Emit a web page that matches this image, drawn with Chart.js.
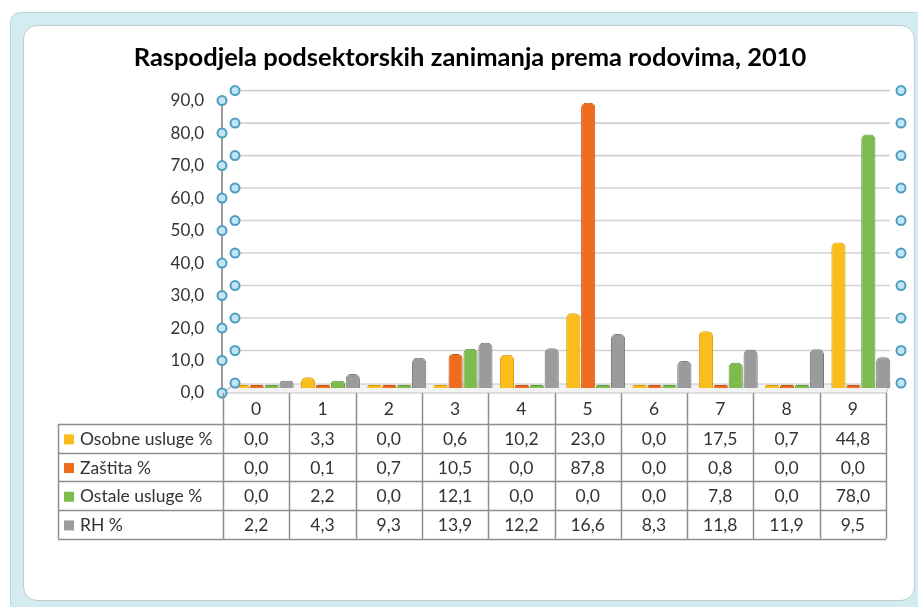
<!DOCTYPE html>
<html>
<head>
<meta charset="utf-8">
<script src="https://cdn.jsdelivr.net/npm/chart.js@4/dist/chart.umd.min.js"></script>
<style>
  body { margin: 0; background: #fff; }
  #wrap { position: relative; width: 918px; height: 607px; overflow: hidden; background: #fff; }
  #band { position: absolute; left: 10px; top: 12px; width: 920px; height: 600px; background: #d4ecf1; border: 1px solid #b5d8e1; border-radius: 10px; }
  #inner { position: absolute; left: 23px; top: 25px; width: 890px; height: 574px; background: #fff; border: 1px solid #c2cacc; border-radius: 14px; }
  canvas { position: absolute; left: 0; top: 0; }
</style>
</head>
<body>
<div id="wrap">
  <div id="band"></div>
  <div id="inner"></div>
  <canvas id="chart" width="918" height="607"></canvas>
</div>
<script>
// data
const categories = ['0', '1', '2', '3', '4', '5', '6', '7', '8', '9'];
const osobneUsluge = [0.0, 3.3, 0.0, 0.6, 10.2, 23.0, 0.0, 17.5, 0.7, 44.8];
const zastita = [0.0, 0.1, 0.7, 10.5, 0.0, 87.8, 0.0, 0.8, 0.0, 0.0];
const ostaleUsluge = [0.0, 2.2, 0.0, 12.1, 0.0, 0.0, 0.0, 7.8, 0.0, 78.0];
const rh = [2.2, 4.3, 9.3, 13.9, 12.2, 16.6, 8.3, 11.8, 11.9, 9.5];
const seriesNames = ['Osobne usluge %', 'Zaštita %', 'Ostale usluge %', 'RH %'];
const yTicks = [0, 10, 20, 30, 40, 50, 60, 70, 80, 90];

const FONT = 'Lato, "Liberation Sans", sans-serif';
const fmt = v => v.toFixed(1).replace('.', ',');

const seriesValues = [osobneUsluge, zastita, ostaleUsluge, rh];
const fills = ['#fbbd1c', '#ef6c1e', '#7dbb4f', '#9b9b9b'];
const edges = ['#d99a00', '#c5530f', '#5e9a38', '#767676'];

// back wall, floor and front axis (fake 3D look)
const framePlugin = {
  id: 'frame',
  beforeDatasetsDraw(chart) {
    const ctx = chart.ctx;
    const y = chart.scales.y;
    const a = chart.chartArea;
    ctx.save();
    // floor
    const f = y.getPixelForValue(0);
    ctx.beginPath();
    ctx.moveTo(a.left - 9, f + 5);
    ctx.lineTo(a.right - 8, f + 5);
    ctx.lineTo(a.right - 4, f - 4);
    ctx.lineTo(a.left + 4, f - 4);
    ctx.closePath();
    ctx.fillStyle = '#f3f3f3';
    ctx.fill();
    ctx.strokeStyle = '#c4c4c4';
    ctx.lineWidth = 1.2;
    ctx.stroke();
    // back gridlines
    ctx.strokeStyle = '#d2d2d2';
    ctx.lineWidth = 1.6;
    yTicks.forEach(v => {
      if (v === 0) return;
      const p = y.getPixelForValue(v) - 5;
      ctx.beginPath();
      ctx.moveTo(a.left + 4, p);
      ctx.lineTo(a.right - 4, p);
      ctx.stroke();
    });
    // front axis line
    ctx.strokeStyle = '#9a9a9a';
    ctx.lineWidth = 2;
    ctx.beginPath();
    ctx.moveTo(a.left - 9, y.getPixelForValue(90) + 5);
    ctx.lineTo(a.left - 9, f + 5);
    ctx.stroke();
    ctx.restore();
  },
  afterDraw(chart) {
    const ctx = chart.ctx;
    const x = chart.scales.x;
    const y = chart.scales.y;
    const a = chart.chartArea;
    ctx.save();
    // selection handles
    const handle = (cx, cy) => {
      ctx.beginPath();
      ctx.arc(cx, cy, 4.5, 0, Math.PI * 2);
      ctx.fillStyle = '#c4e5f0';
      ctx.fill();
      ctx.strokeStyle = '#4d9dc3';
      ctx.lineWidth = 2;
      ctx.stroke();
    };
    yTicks.forEach(v => {
      const p = y.getPixelForValue(v);
      handle(a.left - 9, p + 5);
      handle(a.left + 4, p - 5);
      handle(a.right + 7, p - 5);
    });

    // data table
    const colW = x.getPixelForValue(1) - x.getPixelForValue(0);
    const colLeft = i => x.getPixelForValue(i) - 8 - colW / 2;
    const top = y.getPixelForValue(0) + 5;
    const headBottom = 424;
    const rowH = 28.7;
    const tableLeft = 58;
    const tableRight = colLeft(categories.length);
    const tableBottom = headBottom + rowH * seriesNames.length;

    ctx.strokeStyle = '#8e8e8e';
    ctx.lineWidth = 1.5;
    for (let i = 0; i <= categories.length; i++) {
      const cx = Math.round(colLeft(i)) + 0.5;
      ctx.beginPath();
      ctx.moveTo(cx, top);
      ctx.lineTo(cx, tableBottom);
      ctx.stroke();
    }
    for (let r = 0; r <= seriesNames.length; r++) {
      const ry = Math.round(headBottom + r * rowH) + 0.5;
      ctx.beginPath();
      ctx.moveTo(tableLeft, ry);
      ctx.lineTo(tableRight, ry);
      ctx.stroke();
    }
    ctx.beginPath();
    ctx.moveTo(tableLeft + 0.5, headBottom);
    ctx.lineTo(tableLeft + 0.5, tableBottom);
    ctx.stroke();

    ctx.fillStyle = '#333';
    ctx.font = '17.5px ' + FONT;
    ctx.textAlign = 'center';
    ctx.textBaseline = 'middle';
    categories.forEach((c, i) => {
      ctx.fillText(c, colLeft(i) + colW / 2, (top + headBottom) / 2 + 1);
    });
    seriesNames.forEach((name, r) => {
      const my = headBottom + r * rowH + rowH / 2 + 1;
      ctx.fillStyle = fills[r];
      ctx.fillRect(64, my - 5, 10, 10);
      ctx.fillStyle = '#333';
      ctx.textAlign = 'left';
      ctx.fillText(name, 80, my);
      ctx.textAlign = 'center';
      seriesValues[r].forEach((v, i) => {
        ctx.fillText(fmt(v), colLeft(i) + colW / 2, my);
      });
    });
    ctx.restore();
  }
};

new Chart(document.getElementById('chart'), {
  type: 'bar',
  data: {
    labels: categories,
    datasets: seriesNames.map((name, i) => ({
      label: name,
      data: seriesValues[i],
      backgroundColor: fills[i],
      borderColor: edges[i],
      borderWidth: 1,
      borderRadius: { topLeft: 5, topRight: 5 },
      borderSkipped: 'bottom',
      minBarLength: 3,
      categoryPercentage: 0.9,
      barPercentage: 0.95
    }))
  },
  options: {
    responsive: false,
    animation: false,
    layout: { padding: { left: 46, right: 24, top: 0, bottom: 219 } },
    plugins: {
      legend: { display: false },
      tooltip: { enabled: false },
      title: {
        display: true,
        text: 'Raspodjela podsektorskih zanimanja prema rodovima, 2010',
        color: '#000',
        font: { family: FONT, size: 25.5, weight: 'bold' },
        padding: { top: 42, bottom: 23 }
      }
    },
    scales: {
      x: { display: false },
      y: {
        min: 0,
        max: 90,
        afterFit(scale) { scale.width = 185; },
        grid: { display: false, drawTicks: false },
        border: { display: false },
        ticks: {
          stepSize: 10,
          padding: 27,
          labelOffset: 5,
          color: '#333',
          font: { family: FONT, size: 17 },
          callback: v => fmt(v)
        }
      }
    }
  },
  plugins: [framePlugin]
});
</script>
</body>
</html>
